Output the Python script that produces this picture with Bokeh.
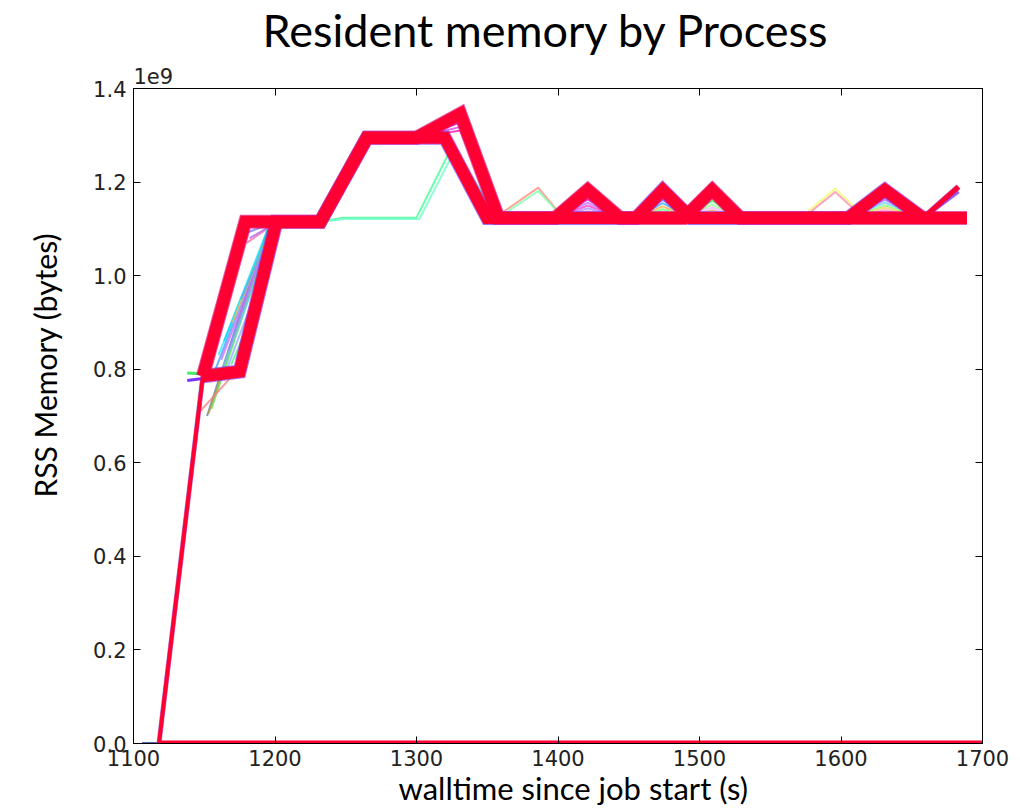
from bokeh.plotting import figure
from bokeh.models import LinearAxis, FixedTicker, NumeralTickFormatter, Title
from bokeh.embed import file_html
from bokeh.resources import INLINE

# ---------------- texts ----------------
title_text = "Resident memory by Process"
x_label = "walltime since job start (s)"
y_label = "RSS Memory (bytes)"
y_offset_text = "1e9"

# ---------------- ticks ----------------
x_ticks = [1100, 1200, 1300, 1400, 1500, 1600, 1700]
y_ticks = [0.0, 0.2, 0.4, 0.6, 0.8, 1.0, 1.2, 1.4]

# ---------------- series (time in s, RSS in units of 1e9 bytes) ----------------
zero_t = [1118, 1700]
zero_v = [0.0, 0.0]
lead_t = [1106, 1118]
lead_v = [0.0, 0.0]
rise_t = [1118, 1149]
rise_v = [0.0, 0.785]
early_t = [1138, 1149]
early_green_v = [0.792, 0.790]
early_purple_v = [0.776, 0.780]

bandA_t = [1149, 1179, 1232, 1265, 1300, 1331, 1358, 1398, 1421, 1444, 1489, 1509, 1529, 1689]
bandA_v = [0.785, 1.115, 1.115, 1.295, 1.295, 1.346, 1.123, 1.123, 1.183, 1.123, 1.123, 1.183, 1.123, 1.123]
bandB_t = [1149, 1175, 1201, 1232, 1265, 1320, 1350, 1455, 1474, 1494, 1605, 1631, 1658]
bandB_v = [0.785, 0.795, 1.115, 1.115, 1.295, 1.295, 1.123, 1.123, 1.183, 1.123, 1.123, 1.183, 1.123]
tail_t = [1658, 1683]
tail_v = [1.123, 1.190]
tail_purple_v = [1.123, 1.180]

green1_t = [1232, 1248, 1300, 1325, 1356]
green1_v = [1.115, 1.124, 1.124, 1.275, 1.123]
green2_t = [1232, 1250, 1302, 1327, 1358]
green2_v = [1.115, 1.121, 1.121, 1.268, 1.123]
salmon_t = [1360, 1386, 1404]
salmon_v = [1.133, 1.188, 1.123]
mint_t = [1360, 1386, 1404]
mint_v = [1.128, 1.181, 1.123]
yellow_t = [1571, 1596, 1618]
yellow_v = [1.123, 1.186, 1.123]
rose_t = [1573, 1596, 1616]
rose_v = [1.123, 1.179, 1.123]

fan_t0 = [1152, 1153, 1155, 1160, 1163, 1166, 1169, 1172, 1175, 1178, 1180, 1147,
          1158, 1162, 1164, 1167, 1170, 1173, 1176, 1182]
fan_v0 = [0.700, 0.705, 0.715, 0.830, 0.800, 0.800, 0.810, 0.800, 0.830, 1.090, 1.070, 0.710,
          0.800, 0.820, 0.860, 0.840, 0.900, 0.820, 0.950, 1.080]
fan_t1 = [1196, 1197, 1198, 1195, 1196, 1197, 1196, 1198, 1198, 1199, 1199, 1168,
          1194, 1197, 1195, 1198, 1197, 1196, 1199, 1200]
fan_v1 = [1.110, 1.100, 1.100, 1.090, 1.070, 1.050, 1.000, 1.100, 1.060, 1.112, 1.110, 0.780,
          1.080, 1.095, 1.100, 1.105, 1.100, 1.040, 1.108, 1.112]
fan_colors = ["#4477aa", "#cc9933", "#55dd55", "#33e0ff", "#66ccff", "#88aaff",
              "#44ee88", "#ff77cc", "#66dd44", "#6677ff", "#ff66aa", "#ff7777",
              "#3399ff", "#cc66ff", "#00ddee", "#9988ff", "#ffbb55", "#ee44cc",
              "#55aaff", "#aa66ee"]

peak_left_t = [1300, 1398, 1455, 1489, 1605]
peak_mid_t = [1331, 1421, 1474, 1509, 1631]
peak_right_t = [1358, 1444, 1494, 1529, 1658]
peak_left_v = [1.295, 1.123, 1.123, 1.123, 1.123]
peak_right_v = [1.123, 1.123, 1.123, 1.123, 1.123]
peak_heights = [
    [1.335, 1.327, 1.318, 1.310],
    [1.170, 1.163, 1.156, 1.150, 1.144, 1.138],
    [1.170, 1.162, 1.155, 1.148, 1.142, 1.136],
    [1.168, 1.160, 1.152, 1.146, 1.140],
    [1.175, 1.168, 1.162, 1.156, 1.150, 1.145, 1.140],
]
peak_colors = [
    ["#aa00ff", "#dd00dd", "#cc33ff", "#ff00aa"],
    ["#9933ff", "#cc00cc", "#bb66ff", "#ff33cc", "#aa88ff", "#ff99cc"],
    ["#3344ff", "#9966ff", "#33aaff", "#ffaa33", "#66ff66", "#ff66cc"],
    ["#cc00ff", "#33ff55", "#88ff88", "#ffaaff", "#ff9966"],
    ["#8800ff", "#5555ff", "#aa66ff", "#66ccff", "#88ff66", "#ffcc66", "#ff88cc"],
]

RED = "#ff0033"

p = figure(width=1020, height=809, x_range=(1100, 1700), y_range=(0, 1.4),
           toolbar_location=None, output_backend="svg",
           min_border_left=133, min_border_right=38, min_border_top=88, min_border_bottom=66,
           background_fill_color="white", border_fill_color="white")
p.grid.visible = False
p.outline_line_color = "black"
p.outline_line_width = 1

# title
p.title.text = title_text
p.title.text_font = "Lato"
p.title.text_font_size = "45px"
p.title.text_font_style = "normal"
p.title.align = "left"
p.title.offset = 129
p.title.vertical_align = "top"
p.title.text_color = "black"
p.title.standoff = 3

# axes
for ax in (p.xaxis[0], p.yaxis[0]):
    ax.major_tick_in = 7
    ax.major_tick_out = 0
    ax.minor_tick_line_color = None
    ax.axis_line_color = "black"
    ax.major_tick_line_color = "black"
    ax.major_label_text_font = "DejaVu Sans"
    ax.major_label_text_font_size = "21px"
    ax.major_label_text_color = "#222222"
p.xaxis.ticker = FixedTicker(ticks=x_ticks)
p.yaxis.ticker = FixedTicker(ticks=y_ticks)
p.yaxis.formatter = NumeralTickFormatter(format="0.0")
p.xaxis.major_label_standoff = 6
p.yaxis.major_label_standoff = 7

top_axis = LinearAxis(ticker=FixedTicker(ticks=x_ticks), major_label_text_color=None,
                      major_label_standoff=0, major_tick_in=7, major_tick_out=0,
                      minor_tick_line_color=None, axis_line_color="black")
right_axis = LinearAxis(ticker=FixedTicker(ticks=y_ticks), major_label_text_color=None,
                        major_label_standoff=0, major_tick_in=7, major_tick_out=0,
                        minor_tick_line_color=None, axis_line_color="black")
p.add_layout(top_axis, "above")
p.add_layout(right_axis, "right")
p.add_layout(Title(text=y_offset_text, align="left", text_font="DejaVu Sans",
                   text_font_size="21px", text_font_style="normal", text_color="#222222",
                   standoff=10, offset=0), "above")

# axis labels as side titles (positioned like the reference's text boxes)
p.add_layout(Title(text=x_label, align="left", offset=265, vertical_align="top",
                   text_font="Lato", text_font_size="31px", text_font_style="normal",
                   text_color="black", standoff=0), "below")
p.add_layout(Title(text=y_label, align="left", offset=246, vertical_align="top",
                   text_font="Lato", text_font_size="30px", text_font_style="normal",
                   text_color="black", standoff=52), "left")

# ---- thin process lines ----
thin_xs, thin_ys, thin_cols = [], [], []
for t0, v0, t1, v1, c in zip(fan_t0, fan_v0, fan_t1, fan_v1, fan_colors):
    thin_xs.append([t0, t1]); thin_ys.append([v0, v1]); thin_cols.append(c)
for lt, mt, rt, lv, rv, hs, cs in zip(peak_left_t, peak_mid_t, peak_right_t,
                                      peak_left_v, peak_right_v, peak_heights, peak_colors):
    for h, c in zip(hs, cs):
        thin_xs.append([lt, mt, rt]); thin_ys.append([lv, h, rv]); thin_cols.append(c)
for tt, vv, c in [(green1_t, green1_v, "#33ff88"), (green2_t, green2_v, "#66ffcc"),
                  (salmon_t, salmon_v, "#ff8877"), (mint_t, mint_v, "#77ffaa"),
                  (yellow_t, yellow_v, "#eeff66"), (rose_t, rose_v, "#ff88aa")]:
    thin_xs.append(tt); thin_ys.append(vv); thin_cols.append(c)
p.multi_line(thin_xs, thin_ys, line_color=thin_cols, line_width=2, line_alpha=0.75)

p.line(lead_t, lead_v, line_color="#5566aa", line_width=3)
p.line(early_t, early_green_v, line_color="#44ee66", line_width=3)
p.line(early_t, early_purple_v, line_color="#7733ff", line_width=3)

# ---- band outlines ----
p.line(bandB_t, bandB_v, line_color="#8a30e0", line_width=14, line_join="miter", line_alpha=0.7)
p.line(bandA_t, bandA_v, line_color="#dd1188", line_width=14, line_join="miter", line_alpha=0.7)
p.line(rise_t, rise_v, line_color="#9944cc", line_width=5, line_alpha=0.7)
p.line(tail_t, tail_purple_v, line_color="#7733ee", line_width=4, line_alpha=0.8)
p.line(tail_t, tail_v, line_color="#aa33cc", line_width=6, line_alpha=0.7)

# ---- red bands ----
p.line(zero_t, zero_v, line_color=RED, line_width=6)
p.line(rise_t, rise_v, line_color=RED, line_width=4)
p.line(bandB_t, bandB_v, line_color=RED, line_width=12, line_join="miter")
p.line(bandA_t, bandA_v, line_color=RED, line_width=12, line_join="miter")
p.line(tail_t, tail_v, line_color=RED, line_width=5)

open("out.html", "w").write(file_html(p, INLINE))
